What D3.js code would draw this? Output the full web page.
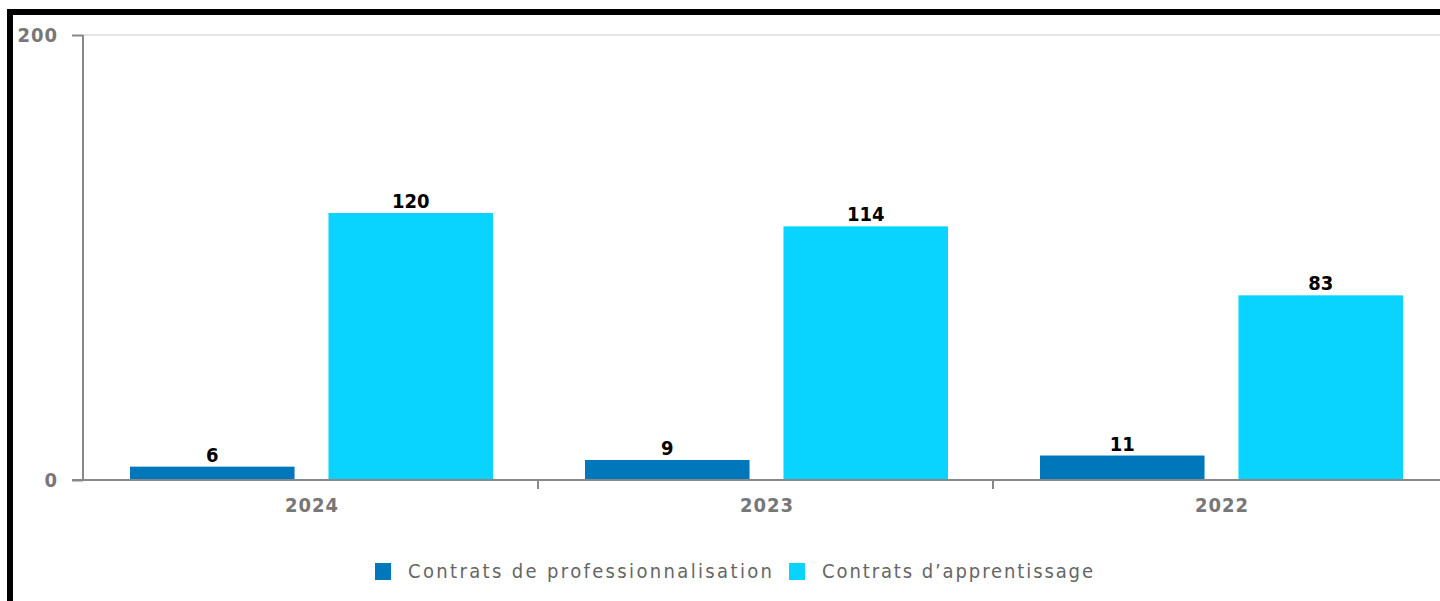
<!DOCTYPE html>
<html><head><meta charset="utf-8">
<script src="https://cdn.jsdelivr.net/npm/d3@7"></script>
<style>body{margin:0;background:#fff;overflow:hidden}</style>
</head><body>
<svg id="c" width="1440" height="601"></svg>
<script>
const categories = ["2024", "2023", "2022"];
const seriesNames = ["Contrats de professionnalisation", "Contrats d’apprentissage"];
const professionnalisation = [6, 9, 11];
const apprentissage = [120, 114, 83];
const yTicks = [0, 200];
const colors = ["#0077bb", "#08d4ff"];

const svg = d3.select("#c");
// border
svg.append("rect").attr("x", 10).attr("y", 12).attr("width", 1440).attr("height", 620)
  .attr("fill", "none").attr("stroke", "#000").attr("stroke-width", 6);

const x0 = d3.scaleBand().domain(categories).range([83, 1448]).paddingInner(0).paddingOuter(0);
const y = d3.scaleLinear().domain([0, 200]).range([480, 35]);

// grid
svg.append("g").selectAll("line").data(yTicks.filter(d => d > 0)).join("line")
  .attr("x1", 83).attr("x2", 1440).attr("y1", d => y(d)).attr("y2", d => y(d))
  .attr("stroke", "#e6e6e6").attr("stroke-width", 2);

const data = categories.map((c, i) => ({cat: c, vals: [professionnalisation[i], apprentissage[i]]}));
const x1 = d3.scaleBand().domain([0, 1]).range([47, 410]).paddingInner(0.171).paddingOuter(0);

const g = svg.append("g");
data.forEach(d => {
  d.vals.forEach((v, j) => {
    const bx = x0(d.cat) + x1(j);
    g.append("rect").attr("x", bx).attr("y", y(v)).attr("width", x1.bandwidth())
      .attr("height", y(0) - y(v)).attr("fill", colors[j]);
    g.append("text").attr("x", bx + x1.bandwidth() / 2).attr("y", y(v) - 5)
      .attr("text-anchor", "middle").attr("font-family", "DejaVu Sans Condensed, DejaVu Sans")
      .attr("font-weight", "bold").attr("font-size", 20)
      .attr("fill", "#000").text(v);
  });
});

// y axis
const yAxis = svg.append("g").attr("transform", "translate(83,0)")
  .call(d3.axisLeft(y).tickValues(yTicks).tickSize(11).tickPadding(14));
yAxis.select(".domain").attr("stroke", "#888").attr("stroke-width", 2).attr("d", `M0,${y(200)}H0V${y(0)}`);
yAxis.selectAll(".tick line").attr("stroke", "#888").attr("stroke-width", 2);
yAxis.selectAll(".tick text").attr("font-family", "DejaVu Sans Condensed, DejaVu Sans").attr("font-weight", "bold")
  .attr("font-size", 20).attr("fill", "#777").attr("letter-spacing", 1).attr("dy", "0.3em");

// x axis
svg.append("line").attr("x1", 72).attr("x2", 1440).attr("y1", y(0)).attr("y2", y(0))
  .attr("stroke", "#888").attr("stroke-width", 2);
svg.append("g").selectAll("line").data(categories.slice(1)).join("line")
  .attr("x1", d => x0(d)).attr("x2", d => x0(d)).attr("y1", y(0)).attr("y2", y(0) + 9)
  .attr("stroke", "#888").attr("stroke-width", 2);
svg.append("g").selectAll("text").data(categories).join("text")
  .attr("x", d => x0(d) + x0.bandwidth() / 2 - 25.5).attr("y", 512)
  .attr("font-family", "DejaVu Sans Condensed, DejaVu Sans").attr("font-weight", "bold")
  .attr("font-size", 20).attr("fill", "#777").attr("textLength", 53).attr("lengthAdjust", "spacing").text(d => d);

// legend
const leg = svg.append("g");
const lx = [375, 789];
const tx = [408, 822];
const lw = [364, 271];
seriesNames.forEach((n, i) => {
  leg.append("rect").attr("x", lx[i]).attr("y", 563).attr("width", 16).attr("height", 17).attr("fill", colors[i]);
  leg.append("text").attr("x", tx[i]).attr("y", 578).attr("font-family", "DejaVu Sans Condensed, DejaVu Sans")
    .attr("font-size", 20).attr("fill", "#666").attr("textLength", lw[i]).attr("lengthAdjust", "spacing").text(n);
});
</script>
</body></html>
